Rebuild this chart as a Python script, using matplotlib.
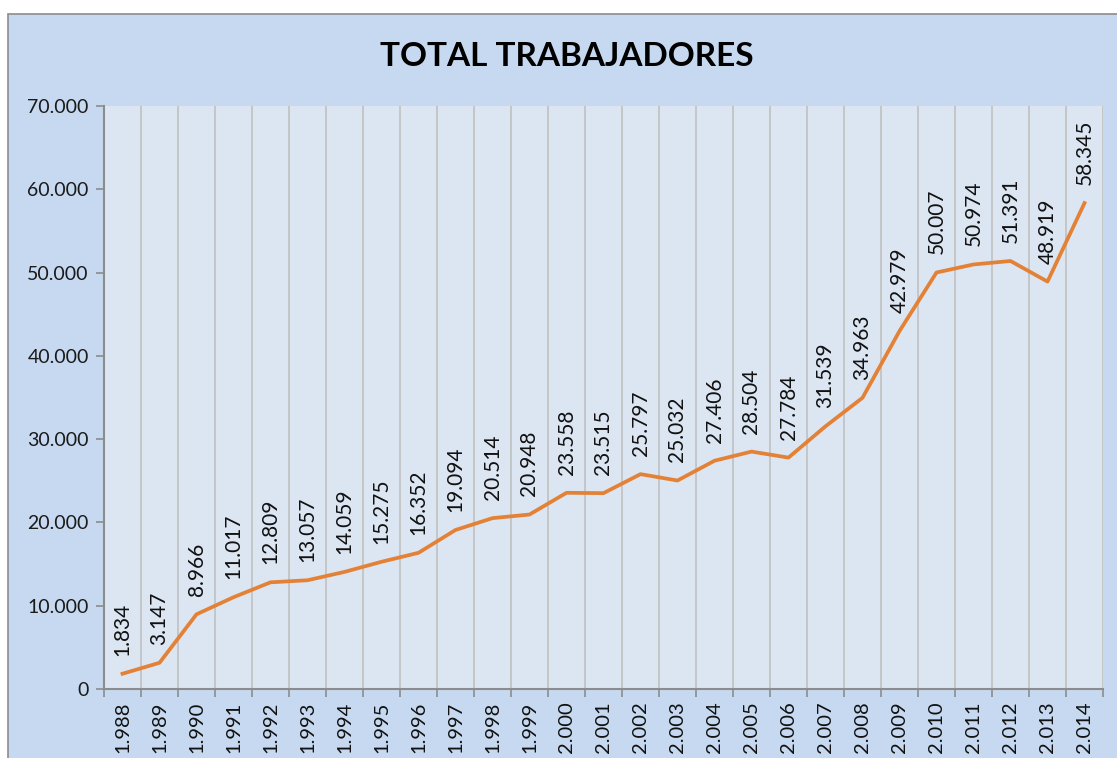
import matplotlib
matplotlib.use("Agg")
import matplotlib.pyplot as plt
from matplotlib.patches import Rectangle
import numpy as np

years = [str(y) for y in range(1988, 2015)]
year_labels = [y[0] + "." + y[1:] for y in years]
values = [1834, 3147, 8966, 11017, 12809, 13057, 14059, 15275, 16352, 19094,
          20514, 20948, 23558, 23515, 25797, 25032, 27406, 28504, 27784, 31539,
          34963, 42979, 50007, 50974, 51391, 48919, 58345]
title = "TOTAL TRABAJADORES"

def fmt(v):
    return f"{v:,}".replace(",", ".")

W, H = 1117, 758
fig = plt.figure(figsize=(W / 100, H / 100), dpi=100, facecolor="white")
plt.rcParams['font.family'] = ['Lato', 'DejaVu Sans']

# chart area background (cropped at right/bottom)
bg = fig.add_axes([0, 0, 1, 1], zorder=-10)
bg.set_xlim(0, W)
bg.set_ylim(H, 0)
bg.axis("off")
bg.add_patch(Rectangle((8, 14), W + 50, H + 50, facecolor="#c6d9f0",
                       edgecolor="#8c8c8c", linewidth=1.2))

left, right, top, bottom = 104, 1103, 106, 689
ax = fig.add_axes([left / W, 1 - bottom / H, (right - left) / W, (bottom - top) / H])
ax.set_facecolor("#dce6f2")

n = len(values)
x = np.arange(n)
ax.plot(x, values, color="#e38236", linewidth=2.7, solid_joinstyle="round", zorder=3)

for xi, v in zip(x, values):
    ax.annotate(fmt(v), (xi, v), xytext=(0, 13), textcoords="offset points",
                rotation=90, ha="center", va="bottom", fontsize=15, color="#111111")

ax.set_xlim(-0.5, n - 0.5)
ax.set_ylim(0, 70000)
ax.set_yticks(np.arange(0, 70001, 10000))
ax.set_yticklabels([fmt(v) for v in range(0, 70001, 10000)], fontsize=14, color="#1a1a1a")

ax.set_xticks(x)
ax.set_xticklabels(year_labels, rotation=90, fontsize=14.5, color="#111111")
ax.tick_params(axis="x", which="major", length=0, pad=9)
ax.set_xticks(np.arange(-0.5, n, 1), minor=True)
ax.tick_params(axis="x", which="minor", length=6, color="#8c8c8c", width=1.2)
ax.tick_params(axis="y", length=6, color="#8c8c8c", width=1.2, pad=5)
ax.grid(True, axis="x", which="minor", color="#c0c0c0", linewidth=1.2)

for s in ["top", "right"]:
    ax.spines[s].set_visible(False)
for s in ["left", "bottom"]:
    ax.spines[s].set_color("#8c8c8c")
    ax.spines[s].set_linewidth(1.5)

fig.text(567 / W, 1 - 56 / H, title, ha="center", va="center",
         fontsize=24, fontweight="bold", color="#000000")

fig.savefig("out.png", dpi=100, facecolor="white")
